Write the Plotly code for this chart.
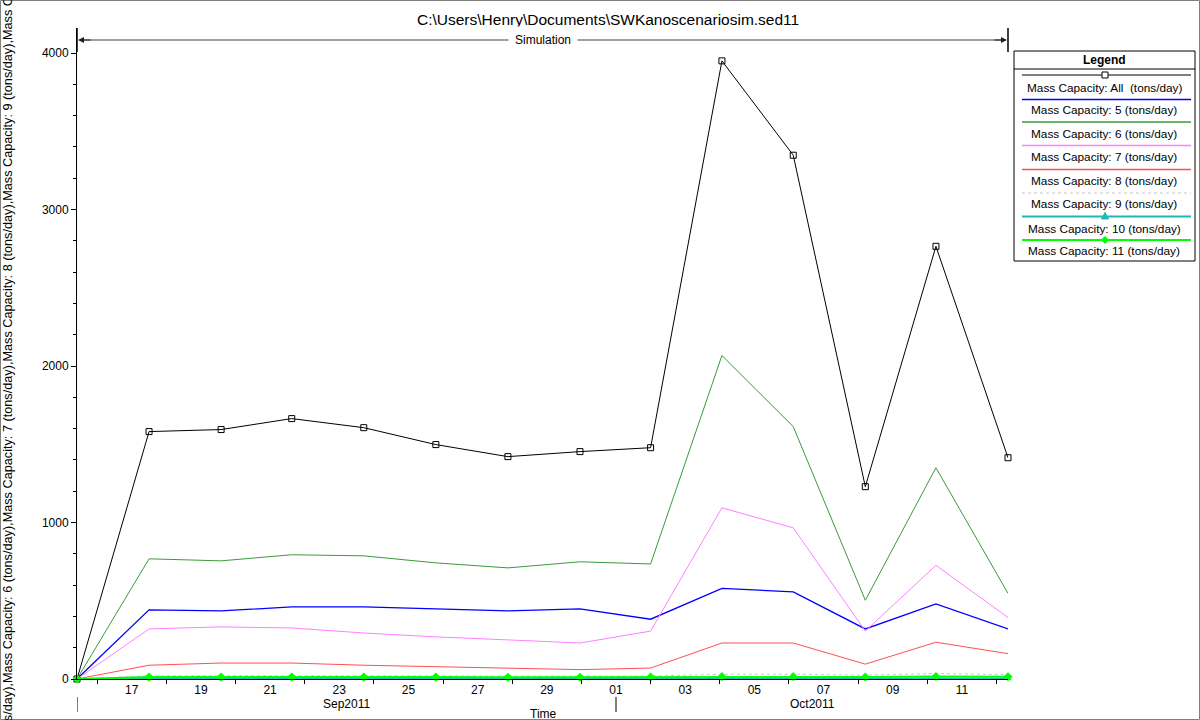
import plotly.graph_objects as go

# ---------------- data ----------------
X_DATES = ["2011-09-15 10:00", "2011-09-17 12:00", "2011-09-19 14:00", "2011-09-21 15:00",
           "2011-09-23 17:00", "2011-09-25 19:00", "2011-09-27 21:00", "2011-09-29 23:00",
           "2011-10-02 00:00", "2011-10-04 01:30", "2011-10-06 03:00", "2011-10-08 05:00",
           "2011-10-10 06:00", "2011-10-12 08:00"]
CAP_ALL = [0, 1581, 1594, 1664, 1606, 1498, 1421, 1453, 1478, 3950, 3347, 1229, 2765, 1414]
CAP_5 = [0, 442, 435, 461, 461, 448, 435, 448, 382, 579, 557, 320, 480, 320]
CAP_6 = [0, 768, 755, 794, 787, 742, 710, 749, 735, 2067, 1613, 503, 1350, 547]
CAP_7 = [0, 320, 333, 326, 294, 269, 250, 230, 306, 1094, 966, 306, 726, 393]
CAP_8 = [0, 88, 102, 102, 88, 80, 68, 60, 70, 230, 230, 95, 235, 162]
CAP_9 = [0, 20, 21, 22, 21, 20, 19, 18, 19, 30, 30, 25, 35, 28]
CAP_10 = [0, 3, 3, 3, 3, 3, 3, 3, 3, 4, 4, 3, 4, 3]
CAP_11 = [0, 12, 12, 13, 12, 12, 11, 11, 12, 15, 15, 13, 16, 14]

SERIES_NAMES = ["Mass Capacity: All  (tons/day)", "Mass Capacity: 5 (tons/day)",
                "Mass Capacity: 6 (tons/day)", "Mass Capacity: 7 (tons/day)",
                "Mass Capacity: 8 (tons/day)", "Mass Capacity: 9 (tons/day)",
                "Mass Capacity: 10 (tons/day)", "Mass Capacity: 11 (tons/day)"]

X_TICKVALS = ["2011-09-17", "2011-09-19", "2011-09-21", "2011-09-23", "2011-09-25",
              "2011-09-27", "2011-09-29", "2011-10-01", "2011-10-03", "2011-10-05",
              "2011-10-07", "2011-10-09", "2011-10-11"]
X_TICKTEXT = ["17", "19", "21", "23", "25", "27", "29", "01", "03", "05", "07", "09", "11"]
X_MINORVALS = ["2011-09-16", "2011-09-18", "2011-09-20", "2011-09-22", "2011-09-24",
               "2011-09-26", "2011-09-28", "2011-09-30", "2011-10-02", "2011-10-04",
               "2011-10-06", "2011-10-08", "2011-10-10", "2011-10-12"]
MONTH_LABELS = ["Sep2011", "Oct2011"]
MONTH_CENTERS = ["2011-09-23 05:00", "2011-10-06 16:00"]
MONTH_BOUNDS = ["2011-09-15 10:00", "2011-10-01 00:00"]

TITLE = "C:\\Users\\Henry\\Documents\\SWKanoscenariosim.sed11"
Y_TITLE = ",".join(["Mass Capacity: All (tons/day)", "Mass Capacity: 5 (tons/day)",
                    "Mass Capacity: 6 (tons/day)", "Mass Capacity: 7 (tons/day)",
                    "Mass Capacity: 8 (tons/day)", "Mass Capacity: 9 (tons/day)",
                    "Mass Capacity: 10 (tons/day)", "Mass Capacity: 11 (tons/day)"])

# ---------------- styles ----------------
COLORS = ["#000000", "#0000FF", "#3A9A3A", "#FF80FF", "#FF5050", "#C8C8C8", "#20B8B8", "#00FF00"]
DASHES = ["solid", "solid", "solid", "solid", "solid", "dot", "solid", "solid"]
WIDTHS = [1, 1.3, 1, 1, 1, 1, 2, 2]
LEG_WIDTHS = [1, 1.5, 1.3, 1.3, 1.3, 1.2, 1.8, 1.8]
MARKERS = [dict(symbol="square-open", size=6, color="#000000", line=dict(width=1)),
           None, None, None, None, None,
           dict(symbol="triangle-up", size=6, color="#20B8B8"),
           dict(symbol="diamond", size=7, color="#00FF00")]

W, H = 1200, 720
L, R, T, B = 77, 192, 28, 41
PW, PH = W - L - R, H - T - B
FONT = "Liberation Sans, Arial, sans-serif"


def PX(x):
    return (x - L) / PW


def PY(y):
    return (H - B - y) / PH


def text_ann(text, x, y, size=12, xref="paper", **kw):
    d = dict(text=text, x=x, y=y, xref=xref, yref="paper", showarrow=False,
             xanchor="center", yanchor="middle",
             font=dict(size=size, family=FONT, color="black"))
    d.update(kw)
    return d


fig = go.Figure()
all_series = [CAP_ALL, CAP_5, CAP_6, CAP_7, CAP_8, CAP_9, CAP_10, CAP_11]
for i, vals in enumerate(all_series):
    mk = MARKERS[i]
    fig.add_trace(go.Scatter(
        x=X_DATES, y=vals, name=SERIES_NAMES[i],
        mode="lines+markers" if mk else "lines",
        line=dict(color=COLORS[i], width=WIDTHS[i], dash=DASHES[i]),
        marker=mk if mk else None,
        showlegend=False, cliponaxis=False,
    ))

shapes = []
annotations = []

# Title
annotations.append(text_ann(TITLE, PX(608), PY(20), size=15.5))

# Simulation span arrow
sim_y = PY(40)
shapes.append(dict(type="line", xref="paper", yref="paper", x0=PX(80), x1=PX(1005),
                   y0=sim_y, y1=sim_y, line=dict(color="#404040", width=1)))
for xe in (77, 1008):
    shapes.append(dict(type="line", xref="paper", yref="paper", x0=PX(xe), x1=PX(xe),
                       y0=PY(28), y1=PY(52), line=dict(color="black", width=1.5)))
annotations.append(dict(text="", x=PX(78), y=sim_y, xref="paper", yref="paper",
                        showarrow=True, ax=14, ay=0, arrowhead=2, arrowsize=1.2,
                        arrowwidth=1, arrowcolor="#202020"))
annotations.append(dict(text="", x=PX(1007), y=sim_y, xref="paper", yref="paper",
                        showarrow=True, ax=-14, ay=0, arrowhead=2, arrowsize=1.2,
                        arrowwidth=1, arrowcolor="#202020"))
annotations.append(text_ann("Simulation", PX(543), sim_y, bgcolor="white", borderpad=6))

# Y axis title (long, overflowing like the original)
annotations.append(text_ann(Y_TITLE, PX(8), PY(360), size=12.7, textangle=-90))

# Month labels and separators
for lab, cx in zip(MONTH_LABELS, MONTH_CENTERS):
    annotations.append(text_ann(lab, cx, PY(703.5), xref="x"))
for bx in MONTH_BOUNDS:
    shapes.append(dict(type="line", xref="x", yref="paper", x0=bx, x1=bx,
                       y0=PY(697), y1=PY(712), line=dict(color="black", width=1)))
annotations.append(text_ann("Time", PX(543), PY(714)))

# Custom legend
lx0, lx1, ly0, ly1 = 1014, 1195, 51, 261
shapes.append(dict(type="rect", xref="paper", yref="paper", x0=PX(lx0), x1=PX(lx1),
                   y0=PY(ly1), y1=PY(ly0), line=dict(color="black", width=1),
                   fillcolor="white", layer="above"))
shapes.append(dict(type="line", xref="paper", yref="paper", x0=PX(lx0), x1=PX(lx1),
                   y0=PY(69), y1=PY(69), line=dict(color="black", width=1), layer="above"))
annotations.append(text_ann("<b>Legend</b>", PX(1104), PY(60), size=12))
line_ys = [75, 99.5, 122, 145.5, 169.5, 193, 216.5, 240]
text_ys = [88, 110, 134, 157, 181, 204, 229, 251]
for i in range(8):
    shapes.append(dict(type="line", xref="paper", yref="paper", x0=PX(1022), x1=PX(1191),
                       y0=PY(line_ys[i]), y1=PY(line_ys[i]), layer="above",
                       line=dict(color=COLORS[i], width=LEG_WIDTHS[i], dash=DASHES[i])))
    annotations.append(text_ann(SERIES_NAMES[i], PX(1104), PY(text_ys[i]), size=11.8))
# legend markers
shapes.append(dict(type="rect", xref="paper", yref="paper", x0=PX(1102), x1=PX(1108),
                   y0=PY(78), y1=PY(72), line=dict(color="black", width=1),
                   fillcolor="white", layer="above"))
shapes.append(dict(type="path", xref="paper", yref="paper", layer="above",
                   path=f"M {PX(1101.5)} {PY(219)} L {PX(1108.5)} {PY(219)} L {PX(1105)} {PY(212.5)} Z",
                   fillcolor="#20B8B8", line=dict(color="#20B8B8", width=1)))
shapes.append(dict(type="path", xref="paper", yref="paper", layer="above",
                   path=f"M {PX(1101.5)} {PY(240)} L {PX(1105)} {PY(236.5)} L {PX(1108.5)} {PY(240)} L {PX(1105)} {PY(243.5)} Z",
                   fillcolor="#00FF00", line=dict(color="#00FF00", width=1)))

# Outer frame
shapes.append(dict(type="rect", xref="paper", yref="paper", x0=PX(0.5), x1=PX(1199.5),
                   y0=PY(719.5), y1=PY(0.5), line=dict(color="#808080", width=1)))

fig.update_layout(
    width=W, height=H,
    margin=dict(l=L, r=R, t=T, b=B, autoexpand=False),
    paper_bgcolor="white", plot_bgcolor="white",
    font=dict(family=FONT, size=12, color="black"),
    showlegend=False,
    shapes=shapes, annotations=annotations,
    xaxis=dict(type="date", range=[X_DATES[0], X_DATES[-1]],
               tickvals=X_TICKVALS, ticktext=X_TICKTEXT, ticks="",
               showgrid=False, zeroline=False, showline=True, linecolor="black", linewidth=1,
               tickfont=dict(size=12, family=FONT, color="black"),
               minor=dict(tickvals=X_MINORVALS, ticks="outside", ticklen=4,
                          tickcolor="black", showgrid=False)),
    yaxis=dict(range=[0, 4160], tickvals=[0, 1000, 2000, 3000, 4000],
               ticks="outside", ticklen=5, tickcolor="black",
               showgrid=False, zeroline=False, showline=True, linecolor="black", linewidth=1,
               tickfont=dict(size=12, family=FONT, color="black"),
               minor=dict(dtick=200, ticks="outside", ticklen=3, tickcolor="black",
                          showgrid=False)),
)

fig.write_html("out.html", config={"displayModeBar": False},
               post_script="document.body.style.margin='0';document.body.style.overflow='hidden';")
